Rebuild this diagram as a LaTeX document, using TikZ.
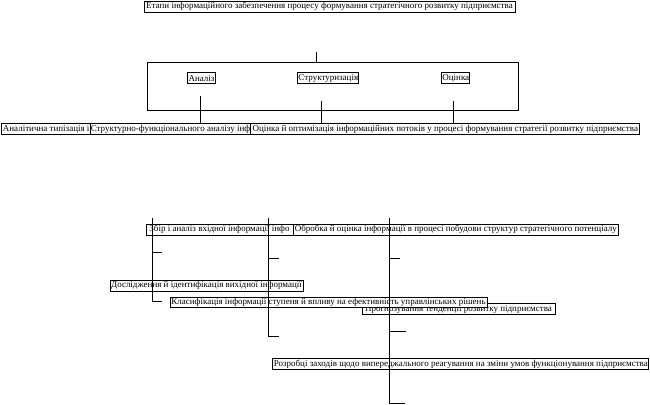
\documentclass[tikz,border=0pt]{standalone}
\usepackage{fontspec}
\setmainfont{Liberation Serif}
\begin{document}
\begin{tikzpicture}[x=1pt,y=-1pt,
  bx/.style={draw, line width=0.7pt, fill=white, inner sep=0.3pt, minimum height=11pt, font=\fontsize{9}{9.5}\selectfont, anchor=center},
  ln/.style={line width=0.8pt}]
\useasboundingbox (0,0) rectangle (650,404);
% top part
\node[bx, minimum width=371pt] (title) at (329.5,6.5) {Етапи інформаційного забезпечення процесу формування стратегічного розвитку підприємства};
\node[draw, line width=0.8pt, minimum width=371pt, minimum height=48pt, inner sep=0pt] (frame) at (332.5,86) {};
\node[bx, minimum width=27.5pt] (an) at (201.5,78.3) {Аналіз};
\node[bx, minimum width=61pt] (str) at (328.3,78.3) {Структуризація};
\node[bx, minimum width=28pt] (oc) at (455.8,78.3) {Оцінка};
\node[bx, minimum width=89pt] (r1) at (46.2,129) {Аналітична типізація і};
\node[bx, minimum width=161pt] (r2) at (170.5,129) {Структурно-функціонального аналізу інф};
\node[bx, minimum width=389pt] (r3) at (445.3,129) {Оцінка й оптимізація інформаційних потоків у процесі формування стратегії розвитку підприємства};
% lower part
\node[bx, minimum width=147pt] (zb) at (219.5,229.7) {Збір і аналіз вхідної інформації інфо};
\node[bx, minimum width=325pt] (ob) at (455.8,229.5) {Обробка й оцінка інформації в процесі побудови структур стратегічного потенціалу};
\node[bx, minimum width=193pt] (dos) at (206.5,285.5) {Дослідження й ідентифікація вихідної інформації};
\node[bx, minimum width=193pt] (prog) at (458.5,309) {Прогнозування тенденції розвитку підприємства};
\node[bx, minimum width=317pt, minimum height=10pt] (klas) at (328.5,302) {Класифікація інформації ступеня й впливу на ефективність управлінських рішень};
\node[bx, minimum width=376pt] (roz) at (460.8,364) {Розробці заходів щодо випереджального реагування на зміни умов функціонування підприємства};
% coordinates
\coordinate (t0) at (316,52);
\coordinate (a1) at (200,96);
\coordinate (s1) at (321,101);
\coordinate (o1) at (453.3,101);
\coordinate (v1t) at (152,218);
\coordinate (v1b) at (152,301);
\coordinate (v2t) at (268,218);
\coordinate (v2b) at (268,336.7);
\coordinate (v3t) at (389,218);
\coordinate (v3b) at (389,403);
\coordinate (k1a) at (162,252.7);
\coordinate (k1b) at (162,301);
\coordinate (k2a) at (279,258);
\coordinate (k2b) at (279,336.7);
\coordinate (k3a) at (400,258);
\coordinate (k3b) at (406,331);
\coordinate (k3c) at (405,403);
% connectors
\draw[ln] (t0) -- (t0 |- frame.north);
\draw[ln] (a1) -- (a1 |- r2.north);
\draw[ln] (s1) -- (s1 |- r3.north);
\draw[ln] (o1) -- (o1 |- r3.north);
\draw[ln] (v1t) -- (v1b);
\draw[ln] (v2t) -- (v2b);
\draw[ln] (v3t) -- (v3b);
\draw[ln] (k1a -| v1t) -- (k1a);
\draw[ln] (v1b) -- (k1b);
\draw[ln] (k2a -| v2t) -- (k2a);
\draw[ln] (v2b) -- (k2b);
\draw[ln] (k3a -| v3t) -- (k3a);
\draw[ln] (k3b -| v3t) -- (k3b);
\draw[ln] (v3b) -- (k3c);
\end{tikzpicture}
\end{document}
